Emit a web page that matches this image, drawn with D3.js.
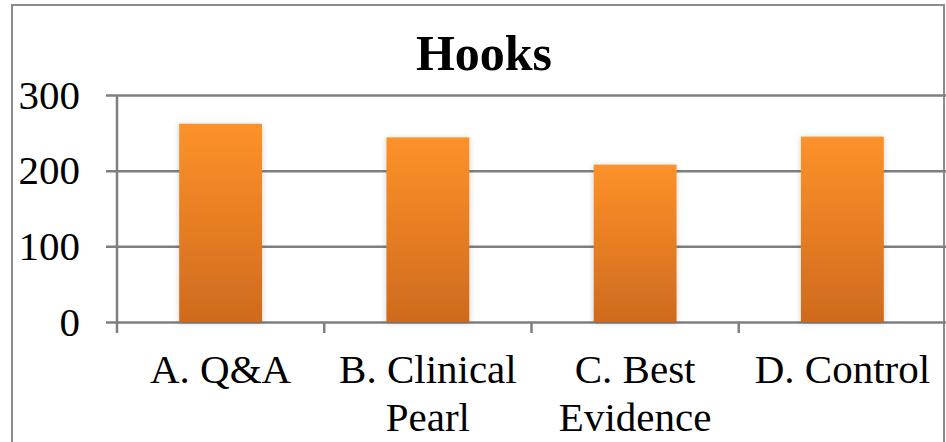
<!DOCTYPE html>
<html>
<head>
<meta charset="utf-8">
<script src="https://cdn.jsdelivr.net/npm/d3@7"></script>
<style>
  html, body { margin: 0; padding: 0; background: #fff; }
  svg { display: block; font-family: 'Liberation Serif', 'Times New Roman', serif; }
</style>
</head>
<body>
<div id="chart"></div>
<script>
const WIDTH = 946;
const HEIGHT = 442;
const CATEGORIES = [['A. Q&A'], ['B. Clinical', 'Pearl'], ['C. Best', 'Evidence'], ['D. Control']];
const VALUES = [262, 244, 208, 245];
const Y_TICKS = [0, 100, 200, 300];
const TITLE = 'Hooks';

const margin = {left: 117, right: 0, top: 95, bottom: 120};

const svg = d3.select('#chart').append('svg')
  .attr('width', WIDTH)
  .attr('height', HEIGHT);

const defs = svg.append('defs');
const grad = defs.append('linearGradient')
  .attr('id', 'barGrad')
  .attr('x1', 0).attr('y1', 0).attr('x2', 0).attr('y2', 1);
grad.append('stop').attr('offset', '0%').attr('stop-color', '#fd922a');
grad.append('stop').attr('offset', '100%').attr('stop-color', '#cf6a1e');

const shadow = defs.append('filter')
  .attr('id', 'shadow')
  .attr('x', '-20%').attr('y', '-10%').attr('width', '140%').attr('height', '120%');
shadow.append('feDropShadow')
  .attr('dx', 0).attr('dy', 1)
  .attr('stdDeviation', 3)
  .attr('flood-color', '#000')
  .attr('flood-opacity', 0.18);

// outer chart border
svg.append('rect')
  .attr('x', 12).attr('y', 5)
  .attr('width', 932).attr('height', 460)
  .attr('fill', 'none')
  .attr('stroke', '#8c8c8c')
  .attr('stroke-width', 2);

svg.append('text')
  .attr('x', 484)
  .attr('y', 70)
  .attr('text-anchor', 'middle')
  .attr('font-size', 50)
  .attr('font-weight', 'bold')
  .text(TITLE);

const x = d3.scaleBand()
  .domain(d3.range(CATEGORIES.length))
  .range([margin.left, WIDTH - margin.right])
  .paddingInner(0.6)
  .paddingOuter(0.3);

const y = d3.scaleLinear()
  .domain([0, 300])
  .range([322, margin.top]);

// gridlines + y ticks
const yAxis = d3.axisLeft(y)
  .tickValues(Y_TICKS)
  .tickSize(-(WIDTH - margin.left + 11))
  .tickFormat(d3.format('d'));

const yG = svg.append('g')
  .attr('transform', `translate(${margin.left - 11},0)`)
  .call(yAxis);
yG.select('.domain').remove();
yG.selectAll('.tick line')
  .attr('stroke', '#7f7f7f')
  .attr('stroke-width', 2.5);
yG.selectAll('.tick text')
  .attr('x', -26)
  .attr('font-size', 41)
  .attr('font-family', "'Liberation Serif', serif")
  .attr('fill', '#000');

// y axis line
svg.append('line')
  .attr('x1', margin.left).attr('x2', margin.left)
  .attr('y1', y(300)).attr('y2', y(0) + 11)
  .attr('stroke', '#7f7f7f')
  .attr('stroke-width', 2.5);

// x category ticks at band boundaries
const step = x.step();
const boundaries = d3.range(CATEGORIES.length).map(i => margin.left + i * step);
svg.selectAll('.xtick')
  .data(boundaries.slice(1))
  .enter()
  .append('line')
  .attr('class', 'xtick')
  .attr('x1', d => d).attr('x2', d => d)
  .attr('y1', y(0)).attr('y2', y(0) + 11)
  .attr('stroke', '#7f7f7f')
  .attr('stroke-width', 2.5);

svg.selectAll('.bar')
  .data(VALUES)
  .enter()
  .append('rect')
  .attr('class', 'bar')
  .attr('x', (d, i) => x(i))
  .attr('y', d => y(d))
  .attr('width', x.bandwidth())
  .attr('height', d => y(0) - y(d))
  .attr('fill', 'url(#barGrad)')
  .attr('filter', 'url(#shadow)');

// x labels
const labels = svg.selectAll('.xlabel')
  .data(CATEGORIES)
  .enter()
  .append('text')
  .attr('class', 'xlabel')
  .attr('text-anchor', 'middle')
  .attr('font-size', 41)
  .attr('fill', '#000')
  .attr('transform', (d, i) => `translate(${x(i) + x.bandwidth() / 2},383)`);
labels.selectAll('tspan')
  .data(d => d)
  .enter()
  .append('tspan')
  .attr('x', 0)
  .attr('y', (d, i) => i * 47.5)
  .text(d => d);
</script>
</body>
</html>
